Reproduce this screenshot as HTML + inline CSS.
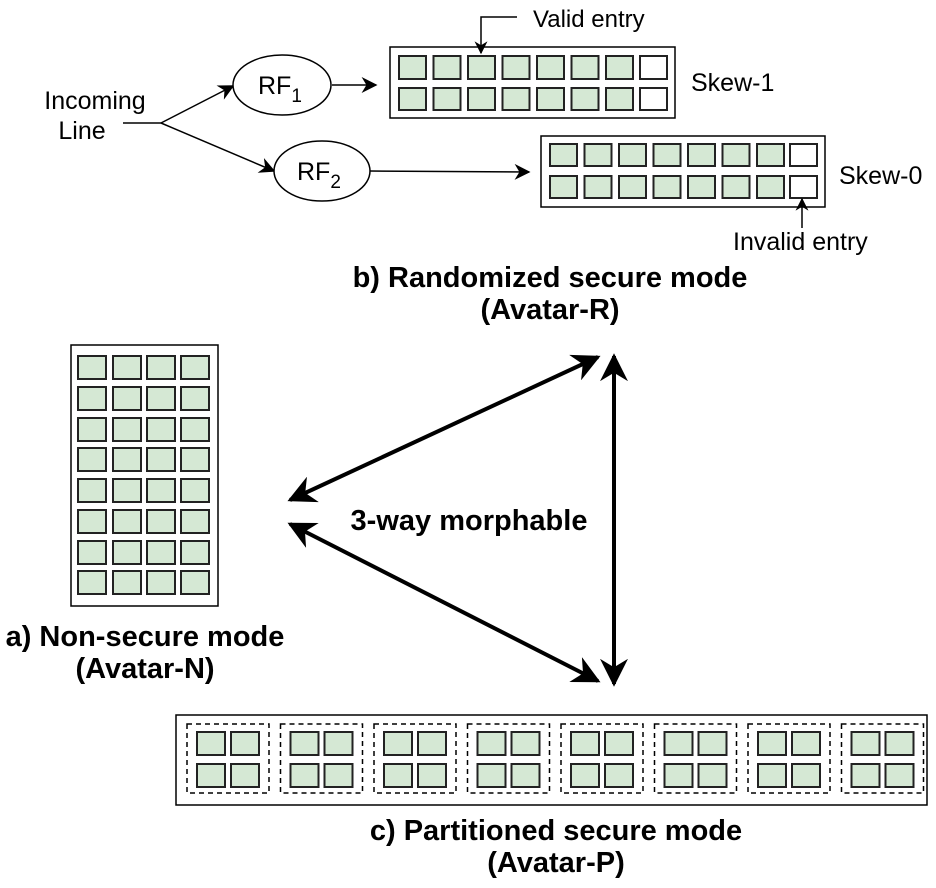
<!DOCTYPE html>
<html><head><meta charset="utf-8"><style>
html,body{margin:0;padding:0;background:#fff;}
svg{display:block;font-family:"Liberation Sans",Arial,sans-serif;}
</style></head><body>
<svg width="936" height="888" viewBox="0 0 936 888" xmlns="http://www.w3.org/2000/svg">
<defs>
<marker id="a" viewBox="0 0 10 10" refX="9" refY="5" markerWidth="13" markerHeight="13" markerUnits="userSpaceOnUse" orient="auto"><path d="M0,0 L10,5 L0,10 L3,5 z" fill="#000"/></marker>
<marker id="b" viewBox="0 0 10 10" refX="9" refY="5" markerWidth="7" markerHeight="7" orient="auto-start-reverse"><path d="M0,0 L10,5 L0,10 L3,5 z" fill="#000"/></marker>
<marker id="s" viewBox="0 0 10 10" refX="9" refY="5" markerWidth="16" markerHeight="16" markerUnits="userSpaceOnUse" orient="auto"><path d="M0,0 L10,5 L0,10 L3,5 z" fill="#000"/></marker>
</defs>

<text x="95" y="109" font-size="25" text-anchor="middle">Incoming</text>
<text x="82" y="139" font-size="25" text-anchor="middle">Line</text>
<line x1="123" y1="123" x2="161" y2="123" stroke="#000" stroke-width="1.5"/>
<line x1="161" y1="123" x2="233" y2="86" stroke="#000" stroke-width="1.5" marker-end="url(#s)"/>
<line x1="161" y1="123" x2="274" y2="171" stroke="#000" stroke-width="1.5" marker-end="url(#s)"/>
<ellipse cx="282" cy="85" rx="49" ry="30" fill="#fff" stroke="#000" stroke-width="1.5"/>
<ellipse cx="322" cy="171" rx="48" ry="30" fill="#fff" stroke="#000" stroke-width="1.5"/>
<text x="258" y="94" font-size="25">RF<tspan font-size="19" dy="8">1</tspan></text>
<text x="297" y="180" font-size="25">RF<tspan font-size="19" dy="8">2</tspan></text>
<line x1="332" y1="85" x2="376" y2="85" stroke="#000" stroke-width="1.5" marker-end="url(#s)"/>
<line x1="370" y1="171" x2="529" y2="172" stroke="#000" stroke-width="1.5" marker-end="url(#s)"/>

<rect x="390" y="47" width="285" height="71" fill="#fff" stroke="#000" stroke-width="1.5"/>
<g stroke="#222" stroke-width="2">
<rect x="399" y="56" width="27" height="23" fill="#d5e8d4"/><rect x="433.5" y="56" width="27" height="23" fill="#d5e8d4"/><rect x="468" y="56" width="27" height="23" fill="#d5e8d4"/><rect x="502.5" y="56" width="27" height="23" fill="#d5e8d4"/><rect x="537" y="56" width="27" height="23" fill="#d5e8d4"/><rect x="571.5" y="56" width="27" height="23" fill="#d5e8d4"/><rect x="606" y="56" width="27" height="23" fill="#d5e8d4"/><rect x="640" y="56" width="27" height="23" fill="#fff"/>
<rect x="399" y="88" width="27" height="22" fill="#d5e8d4"/><rect x="433.5" y="88" width="27" height="22" fill="#d5e8d4"/><rect x="468" y="88" width="27" height="22" fill="#d5e8d4"/><rect x="502.5" y="88" width="27" height="22" fill="#d5e8d4"/><rect x="537" y="88" width="27" height="22" fill="#d5e8d4"/><rect x="571.5" y="88" width="27" height="22" fill="#d5e8d4"/><rect x="606" y="88" width="27" height="22" fill="#d5e8d4"/><rect x="640" y="88" width="27" height="22" fill="#fff"/>
</g>
<text x="691" y="91" font-size="25">Skew-1</text>
<polyline points="517,17 481,17 481,53" fill="none" stroke="#000" stroke-width="1.5" marker-end="url(#a)"/>
<text x="533" y="27" font-size="24">Valid entry</text>

<rect x="541" y="136" width="284" height="71" fill="#fff" stroke="#000" stroke-width="1.5"/>
<g stroke="#222" stroke-width="2">
<rect x="550" y="144" width="27" height="22" fill="#d5e8d4"/><rect x="584.5" y="144" width="27" height="22" fill="#d5e8d4"/><rect x="619" y="144" width="27" height="22" fill="#d5e8d4"/><rect x="653.5" y="144" width="27" height="22" fill="#d5e8d4"/><rect x="688" y="144" width="27" height="22" fill="#d5e8d4"/><rect x="722.5" y="144" width="27" height="22" fill="#d5e8d4"/><rect x="757" y="144" width="27" height="22" fill="#d5e8d4"/><rect x="790" y="144" width="27" height="22" fill="#fff"/>
<rect x="550" y="176" width="27" height="22" fill="#d5e8d4"/><rect x="584.5" y="176" width="27" height="22" fill="#d5e8d4"/><rect x="619" y="176" width="27" height="22" fill="#d5e8d4"/><rect x="653.5" y="176" width="27" height="22" fill="#d5e8d4"/><rect x="688" y="176" width="27" height="22" fill="#d5e8d4"/><rect x="722.5" y="176" width="27" height="22" fill="#d5e8d4"/><rect x="757" y="176" width="27" height="22" fill="#d5e8d4"/><rect x="790" y="176" width="27" height="22" fill="#fff"/>
</g>
<text x="839" y="184" font-size="25">Skew-0</text>
<line x1="802" y1="228" x2="802" y2="199" stroke="#000" stroke-width="1.5" marker-end="url(#a)"/>
<text x="733" y="250" font-size="25">Invalid entry</text>

<text x="550" y="287" font-size="29" font-weight="bold" text-anchor="middle">b) Randomized secure mode</text>
<text x="550" y="319" font-size="29" font-weight="bold" text-anchor="middle">(Avatar-R)</text>

<rect x="71" y="345" width="147" height="261" fill="#fff" stroke="#000" stroke-width="1.5"/>
<g stroke="#222" stroke-width="2" fill="#d5e8d4">
<rect x="78" y="356" width="28" height="23"/><rect x="113" y="356" width="28" height="23"/><rect x="147" y="356" width="28" height="23"/><rect x="181" y="356" width="28" height="23"/>
<rect x="78" y="387" width="28" height="23"/><rect x="113" y="387" width="28" height="23"/><rect x="147" y="387" width="28" height="23"/><rect x="181" y="387" width="28" height="23"/>
<rect x="78" y="418" width="28" height="23"/><rect x="113" y="418" width="28" height="23"/><rect x="147" y="418" width="28" height="23"/><rect x="181" y="418" width="28" height="23"/>
<rect x="78" y="448" width="28" height="23"/><rect x="113" y="448" width="28" height="23"/><rect x="147" y="448" width="28" height="23"/><rect x="181" y="448" width="28" height="23"/>
<rect x="78" y="479" width="28" height="23"/><rect x="113" y="479" width="28" height="23"/><rect x="147" y="479" width="28" height="23"/><rect x="181" y="479" width="28" height="23"/>
<rect x="78" y="510" width="28" height="23"/><rect x="113" y="510" width="28" height="23"/><rect x="147" y="510" width="28" height="23"/><rect x="181" y="510" width="28" height="23"/>
<rect x="78" y="541" width="28" height="23"/><rect x="113" y="541" width="28" height="23"/><rect x="147" y="541" width="28" height="23"/><rect x="181" y="541" width="28" height="23"/>
<rect x="78" y="571" width="28" height="23"/><rect x="113" y="571" width="28" height="23"/><rect x="147" y="571" width="28" height="23"/><rect x="181" y="571" width="28" height="23"/>
</g>
<text x="145" y="646" font-size="29" font-weight="bold" text-anchor="middle">a) Non-secure mode</text>
<text x="145" y="678" font-size="29" font-weight="bold" text-anchor="middle">(Avatar-N)</text>

<g stroke="#000" stroke-width="4" fill="none">
<line x1="290" y1="500" x2="598" y2="357" marker-start="url(#b)" marker-end="url(#b)"/>
<line x1="290" y1="524" x2="598" y2="681" marker-start="url(#b)" marker-end="url(#b)"/>
<line x1="614" y1="356" x2="614" y2="684" marker-start="url(#b)" marker-end="url(#b)"/>
</g>
<text x="469" y="530" font-size="29" font-weight="bold" text-anchor="middle">3-way morphable</text>

<rect x="176" y="715" width="751" height="90" fill="#fff" stroke="#000" stroke-width="1.5"/>
<g id="grp">
<rect x="187" y="724" width="82" height="69" fill="none" stroke="#000" stroke-width="1.5" stroke-dasharray="5,4"/>
<g stroke="#222" stroke-width="2" fill="#d5e8d4">
<rect x="197" y="732" width="28" height="23"/><rect x="231" y="732" width="28" height="23"/>
<rect x="197" y="764" width="28" height="23"/><rect x="231" y="764" width="28" height="23"/>
</g>
</g>
<use href="#grp" x="93.5"/><use href="#grp" x="187"/><use href="#grp" x="280.5"/><use href="#grp" x="374"/><use href="#grp" x="467.5"/><use href="#grp" x="561"/><use href="#grp" x="654.5"/>
<text x="556" y="840" font-size="29" font-weight="bold" text-anchor="middle">c) Partitioned secure mode</text>
<text x="556" y="872" font-size="29" font-weight="bold" text-anchor="middle">(Avatar-P)</text>
</svg>
</body></html>
